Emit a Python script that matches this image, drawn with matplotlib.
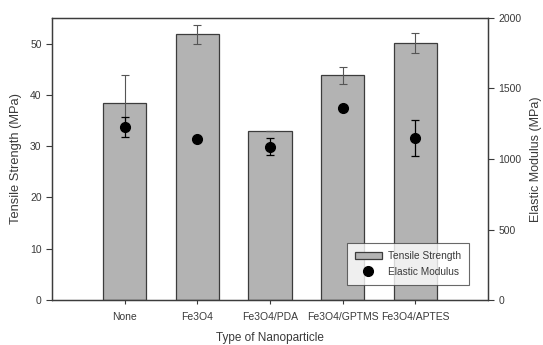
import matplotlib
matplotlib.use('Agg')
import matplotlib.pyplot as plt
from matplotlib.lines import Line2D
import numpy as np

plt.rcParams['font.family'] = ['Liberation Sans', 'DejaVu Sans']

categorias = ['None', 'Fe3O4', 'Fe3O4/PDA', 'Fe3O4/GPTMS', 'Fe3O4/APTES']
tensile = [38.5, 51.8, 33.0, 43.8, 50.1]
tensile_err = [5.4, 1.8, 0.0, 1.6, 2.0]
modulus = [1225, 1142, 1087, 1360, 1147]
modulus_err = [71, 15, 60, 15, 128]

cor_texto = '#3a3a3a'
cor_barra = '#b3b3b3'
cor_borda = '#3c3c3c'

fig = plt.figure(figsize=(5.43, 3.45), dpi=100)
ax = fig.add_axes([52 / 543, 45 / 345, 436 / 543, 282 / 345])
x = np.arange(1, len(categorias) + 1)

# Barras - resistencia a tracao
ax.bar(x, tensile, width=0.6, color=cor_barra, edgecolor=cor_borda, linewidth=0.9,
       label='Tensile Strength', zorder=2)
ax.errorbar(x, tensile, yerr=tensile_err, fmt='none', ecolor='#555555',
            elinewidth=0.8, capsize=3, capthick=0.8, zorder=3)
ax.set_xlim(0, 6)
ax.set_ylim(0, 55)
ax.set_xticks(x)
ax.set_xticklabels(categorias, fontsize=7.5, color=cor_texto)
ax.set_yticks([0, 10, 20, 30, 40, 50])
ax.tick_params(axis='y', labelsize=7.5, colors=cor_texto, direction='out', length=4)
ax.tick_params(axis='x', direction='out', length=3, colors=cor_texto, pad=6)
ax.set_ylabel('Tensile Strength (MPa)', fontsize=9.3, color=cor_texto, labelpad=6)
ax.set_xlabel('Type of Nanoparticle', fontsize=8.5, color=cor_texto, labelpad=7)
for s in ax.spines.values():
    s.set_color(cor_borda)
    s.set_linewidth(0.9)

# Eixo secundario - modulo elastico
ax2 = ax.twinx()
ax2.errorbar(x, modulus, yerr=modulus_err, fmt='o', color='black', ms=7,
             ecolor='black', elinewidth=0.9, capsize=3, capthick=0.9, zorder=4)
ax2.set_ylim(0, 2000)
ax2.set_yticks([0, 500, 1000, 1500, 2000])
ax2.tick_params(axis='y', labelsize=7.5, colors=cor_texto, direction='out', length=4)
ax2.set_ylabel('Elastic Modulus (MPa)', fontsize=9, color=cor_texto, labelpad=6)
for s in ax2.spines.values():
    s.set_color(cor_borda)
    s.set_linewidth(0.9)

h1, l1 = ax.get_legend_handles_labels()
ponto = Line2D([], [], marker='o', color='black', linestyle='none', ms=7)
leg = ax2.legend(h1 + [ponto], l1 + ['Elastic Modulus'], loc='lower right',
                 bbox_to_anchor=(0.968, 0.035), fontsize=7.3, frameon=True,
                 fancybox=False, edgecolor='#444444', handlelength=2.6,
                 borderpad=0.8, labelspacing=0.55, handletextpad=0.6)
leg.get_frame().set_linewidth(0.8)
for t in leg.get_texts():
    t.set_color(cor_texto)

fig.savefig('out.png', dpi=100)
